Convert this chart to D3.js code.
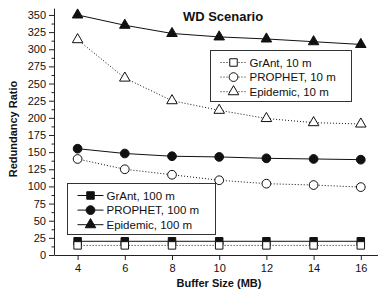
<!DOCTYPE html>
<html>
<head>
<meta charset="utf-8">
<script src="https://cdn.jsdelivr.net/npm/d3@7"></script>
<style>
body { margin: 0; background: #fff; }
svg text { font-family: "Liberation Sans", Arial, sans-serif; fill: #111; }
</style>
</head>
<body>
<script>
// buffer sizes (MB)
var buffers = [4, 6, 8, 10, 12, 14, 16];
var yTicks = [0, 25, 50, 75, 100, 125, 150, 175, 200, 225, 250, 275, 300, 325, 350];

// redundancy ratio
var grant100 = [20, 20, 20, 20, 20, 20, 20];
var prophet100 = [155, 148, 144, 143, 141, 140, 139];
var epidemic100 = [350, 335, 323, 318, 315, 311, 307];
var grant10 = [14, 14, 14, 14, 14, 14, 14];
var prophet10 = [140, 125, 117, 109, 104, 102, 99];
var epidemic10 = [314, 258, 225, 211, 199, 193, 191];

var series100 = [
  {name: 'GrAnt, 100 m', shape: 'square', values: grant100},
  {name: 'PROPHET, 100 m', shape: 'circle', values: prophet100},
  {name: 'Epidemic, 100 m', shape: 'triangle', values: epidemic100}
];
var series10 = [
  {name: 'GrAnt, 10 m', shape: 'square', values: grant10},
  {name: 'PROPHET, 10 m', shape: 'circle', values: prophet10},
  {name: 'Epidemic, 10 m', shape: 'triangle', values: epidemic10}
];

var width = 378, height = 295;
var svg = d3.select('body').append('svg')
  .attr('width', width)
  .attr('height', height);

var x = d3.scaleLinear().domain([3, 17]).range([54, 384.4]);
var y = d3.scaleLinear().domain([0, 360]).range([255, 8.1]);

var symbols = {
  square: d3.symbol().type(d3.symbolSquare).size(56),
  circle: d3.symbol().type(d3.symbolCircle).size(60),
  triangle: d3.symbol().type(d3.symbolTriangle).size(48)
};

// y axis: major ticks every 25, minor in between
svg.append('g')
  .attr('transform', 'translate(54,0)')
  .call(d3.axisLeft(y).tickValues(d3.range(12.5, 350, 25)).tickSize(2.5).tickFormat(''))
  .call(g => g.select('.domain').remove())
  .selectAll('line').attr('stroke', '#222');
var yAxis = svg.append('g')
  .attr('transform', 'translate(54,0)')
  .call(d3.axisLeft(y).tickValues(yTicks).tickSize(5).tickSizeOuter(0).tickPadding(3));
yAxis.select('.domain').attr('stroke', '#222');
yAxis.selectAll('line').attr('stroke', '#222');
yAxis.selectAll('text').style('font-size', '11px');

var xAxis = svg.append('g')
  .attr('transform', 'translate(0,255)')
  .call(d3.axisBottom(x).tickValues(buffers).tickSize(5).tickSizeOuter(0).tickPadding(4));
xAxis.select('.domain').attr('stroke', '#222');
xAxis.selectAll('line').attr('stroke', '#222');
xAxis.selectAll('text').style('font-size', '11px');

var line = d3.line()
  .x((d, i) => x(buffers[i]))
  .y(d => y(d));

function drawSeries(list, dashed) {
  list.forEach(function(s) {
    svg.append('path')
      .datum(s.values)
      .attr('d', line)
      .attr('fill', 'none')
      .attr('stroke', '#111')
      .attr('stroke-width', 1)
      .attr('stroke-dasharray', dashed ? '1,2' : null);
    svg.selectAll(null)
      .data(s.values)
      .enter()
      .append('path')
      .attr('d', symbols[s.shape])
      .attr('transform', (d, i) => 'translate(' + x(buffers[i]) + ',' + y(d) + ')')
      .attr('fill', dashed ? '#fff' : '#111')
      .attr('stroke', '#111')
      .attr('stroke-width', 1);
  });
}
drawSeries(series100, false);
drawSeries(series10, true);

function drawLegend(list, dashed, bx, by, bw, bh) {
  var g = svg.append('g').attr('transform', 'translate(' + bx + ',' + by + ')');
  g.append('rect')
    .attr('width', bw).attr('height', bh)
    .attr('fill', '#fff')
    .attr('stroke', '#333')
    .attr('stroke-width', 1);
  list.forEach(function(s, i) {
    var ry = 12 + i * 14.6;
    g.append('line')
      .attr('x1', 10).attr('x2', 36)
      .attr('y1', ry).attr('y2', ry)
      .attr('stroke', '#111')
      .attr('stroke-dasharray', dashed ? '1,2' : null);
    g.append('path')
      .attr('d', symbols[s.shape])
      .attr('transform', 'translate(23,' + ry + ')')
      .attr('fill', dashed ? '#fff' : '#111')
      .attr('stroke', '#111');
    g.append('text')
      .attr('x', 39).attr('y', ry + 4)
      .style('font-size', '11.5px')
      .text(s.name);
  });
}
drawLegend(series10, true, 210.5, 50.5, 141, 51);
drawLegend(series100, false, 67.5, 183.5, 148, 51);

svg.append('text')
  .attr('x', 223).attr('y', 21)
  .attr('text-anchor', 'middle')
  .style('font-size', '13px')
  .style('font-weight', 'bold')
  .text('WD Scenario');

svg.append('text')
  .attr('x', 219).attr('y', 287)
  .attr('text-anchor', 'middle')
  .style('font-size', '11px')
  .style('font-weight', 'bold')
  .text('Buffer Size (MB)');

svg.append('text')
  .attr('transform', 'translate(17,129) rotate(-90)')
  .attr('text-anchor', 'middle')
  .style('font-size', '11px')
  .style('font-weight', 'bold')
  .text('Redundancy Ratio');
</script>
</body>
</html>
